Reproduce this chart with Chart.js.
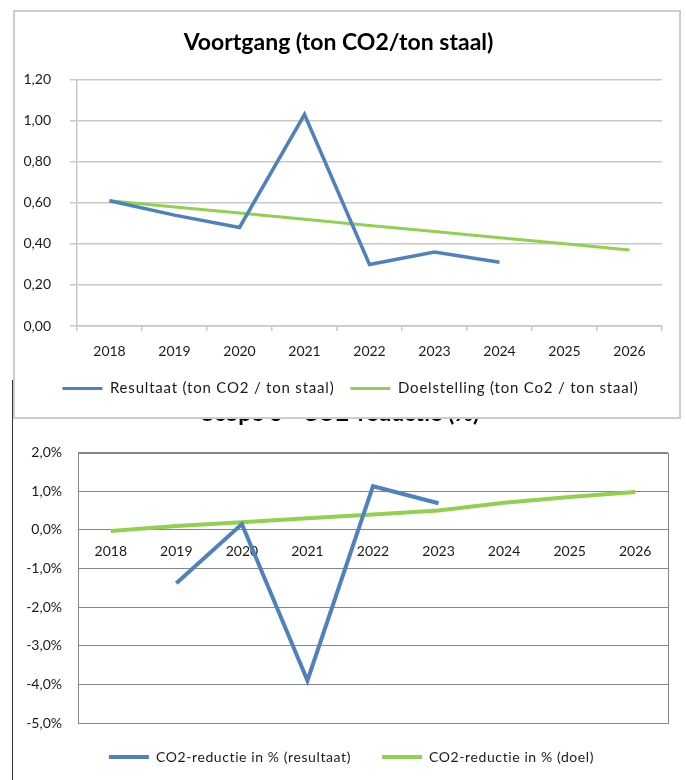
<!DOCTYPE html>
<html><head><meta charset="utf-8">
<script src="https://cdn.jsdelivr.net/npm/chart.js@4.4.1/dist/chart.umd.min.js"></script>
<style>
html,body{margin:0;padding:0;background:#fff;width:686px;height:780px;overflow:hidden;position:relative;}
#bottomBox{position:absolute;left:12px;top:380px;width:674px;height:400px;border-left:1px solid #333;}
#topBox{position:absolute;left:13px;top:10px;width:668px;height:409px;border:2px solid #cdcdcd;box-sizing:border-box;background:#fff;z-index:2;}
canvas{display:block;}
</style></head><body>
<div id="bottomBox"><canvas id="c2" width="673" height="400"></canvas></div>
<div id="topBox"><canvas id="c1" width="664" height="405"></canvas></div>
<script>
const years = ['2018','2019','2020','2021','2022','2023','2024','2025','2026'];
const resultaatTon = [0.61, 0.54, 0.48, 1.03, 0.30, 0.36, 0.31, null, null];
const doelTon = [0.61, 0.58, 0.55, 0.52, 0.49, 0.46, 0.43, 0.40, 0.37];
const tonTickLabels = ['0,00','0,20','0,40','0,60','0,80','1,00','1,20'];
const reductieResultaat = [null, -1.38, 0.15, -3.90, 1.13, 0.69, null, null, null];
const reductieDoel = [-0.03, 0.10, 0.20, 0.30, 0.40, 0.50, 0.70, 0.85, 0.98];
const pctTickLabels = ['-5,0%','-4,0%','-3,0%','-2,0%','-1,0%','0,0%','1,0%','2,0%'];

const BLUE = '#4f81bd';
const GREEN = '#92d050';
const FONT = "Lato, 'Open Sans', sans-serif";
Chart.defaults.font.family = FONT;
Chart.defaults.color = '#1a1a1a';

function lineLegendLabels(chart){
  const items = Chart.defaults.plugins.legend.labels.generateLabels(chart);
  items.forEach(it => { it.fillStyle = it.strokeStyle; it.lineWidth = 0; });
  return items;
}

// Excel-like legend text spacing and small nudge of the legend block
function legendStyle(spacing, dx, dy){
  return {
    id: 'legendStyle',
    afterInit(chart){
      const lg = chart.legend;
      if (!lg) return;
      const ctx = chart.ctx;
      const origFit = lg.fit, origDraw = lg.draw;
      lg.fit = function(...args){
        const prev = ctx.letterSpacing;
        ctx.letterSpacing = spacing;
        try { return origFit.apply(this, args); } finally { ctx.letterSpacing = prev; }
      };
      lg.draw = function(...args){
        ctx.save();
        ctx.letterSpacing = spacing;
        ctx.translate(dx, dy);
        try { return origDraw.apply(this, args); } finally { ctx.restore(); }
      };
    }
  };
}

const plotBorder = {
  id: 'plotBorder',
  beforeDatasetsDraw(chart, args, opts){
    if (!opts || !opts.color) return;
    const {ctx, chartArea: a} = chart;
    ctx.save();
    ctx.strokeStyle = opts.color;
    ctx.lineWidth = opts.width || 1;
    ctx.strokeRect(Math.round(a.left)+0.5, Math.round(a.top)+0.5, Math.round(a.right-a.left), Math.round(a.bottom-a.top));
    ctx.restore();
  }
};

new Chart(document.getElementById('c1'), {
  type: 'line',
  data: {
    labels: years,
    datasets: [
      {label: 'Resultaat (ton CO2 / ton staal)', data: resultaatTon, borderColor: BLUE, backgroundColor: BLUE, borderWidth: 3.5, pointRadius: 0, tension: 0, spanGaps: false},
      {label: 'Doelstelling (ton Co2 / ton staal)', data: doelTon, borderColor: GREEN, backgroundColor: GREEN, borderWidth: 3, pointRadius: 0, tension: 0}
    ]
  },
  plugins: [legendStyle('0.8px', 12, 0)],
  options: {
    responsive: false, animation: false,
    layout: {padding: {left: 0, right: 17, top: 0, bottom: 11}},
    plugins: {
      title: {display: true, text: 'Voortgang (ton CO2/ton staal)', color: '#000', font: {size: 23, weight: 'bold'}, padding: {top: 17, bottom: 23}},
      legend: {position: 'bottom', labels: {boxWidth: 40, boxHeight: 3, padding: 16, font: {size: 15}, color: '#1a1a1a', generateLabels: lineLegendLabels}},
      tooltip: {enabled: false}
    },
    scales: {
      x: {
        offset: true,
        grid: {offset: true, drawOnChartArea: false, drawTicks: true, tickLength: 5, color: '#c8c8c8', lineWidth: 1.5},
        border: {display: true, color: '#c8c8c8', width: 1.5},
        ticks: {font: {size: 14}, color: '#1a1a1a', padding: 12, maxRotation: 0},
        afterFit(s){ s.height = 39; }
      },
      y: {
        min: 0, max: 1.2,
        ticks: {stepSize: 0.2, font: {size: 14}, color: '#1a1a1a', padding: 19, callback: (v, i) => tonTickLabels[i]},
        grid: {color: '#c8c8c8', lineWidth: 1.5, drawTicks: true, tickLength: 7},
        border: {display: true, color: '#c8c8c8', width: 1.5},
        afterFit(s){ s.width = 62; }
      }
    }
  }
});

new Chart(document.getElementById('c2'), {
  type: 'line',
  data: {
    labels: years,
    datasets: [
      {label: 'CO2-reductie in % (resultaat)', data: reductieResultaat, borderColor: BLUE, backgroundColor: BLUE, borderWidth: 4, pointRadius: 0, tension: 0, spanGaps: false},
      {label: 'CO2-reductie in % (doel)', data: reductieDoel, borderColor: GREEN, backgroundColor: GREEN, borderWidth: 4, pointRadius: 0, tension: 0}
    ]
  },
  plugins: [plotBorder, legendStyle('0.6px', 11, -4)],
  options: {
    responsive: false, animation: false,
    layout: {padding: {left: 0, right: 18, top: 0, bottom: 2}},
    plugins: {
      plotBorder: {color: '#868686', width: 1},
      title: {display: true, text: 'Scope 3 - CO2-reductie (%)', color: '#000', font: {size: 23, weight: 'bold'}, padding: {top: 20, bottom: 25}},
      legend: {position: 'bottom', labels: {boxWidth: 40, boxHeight: 4, padding: 31, font: {size: 14}, color: '#1a1a1a', generateLabels: lineLegendLabels}},
      tooltip: {enabled: false}
    },
    scales: {
      x: {
        position: {y: 0},
        offset: true,
        grid: {offset: true, drawOnChartArea: false, drawTicks: false},
        border: {display: true, color: '#868686', width: 1},
        ticks: {font: {size: 14}, color: '#1a1a1a', padding: 13, maxRotation: 0}
      },
      y: {
        min: -5, max: 2,
        ticks: {stepSize: 1, font: {size: 14}, color: '#1a1a1a', padding: 16, callback: (v, i) => pctTickLabels[i]},
        grid: {color: '#868686', lineWidth: 1, drawTicks: false},
        border: {display: true, color: '#868686', width: 1},
        afterFit(s){ s.width = 65; }
      }
    }
  }
});
</script>
</body></html>
